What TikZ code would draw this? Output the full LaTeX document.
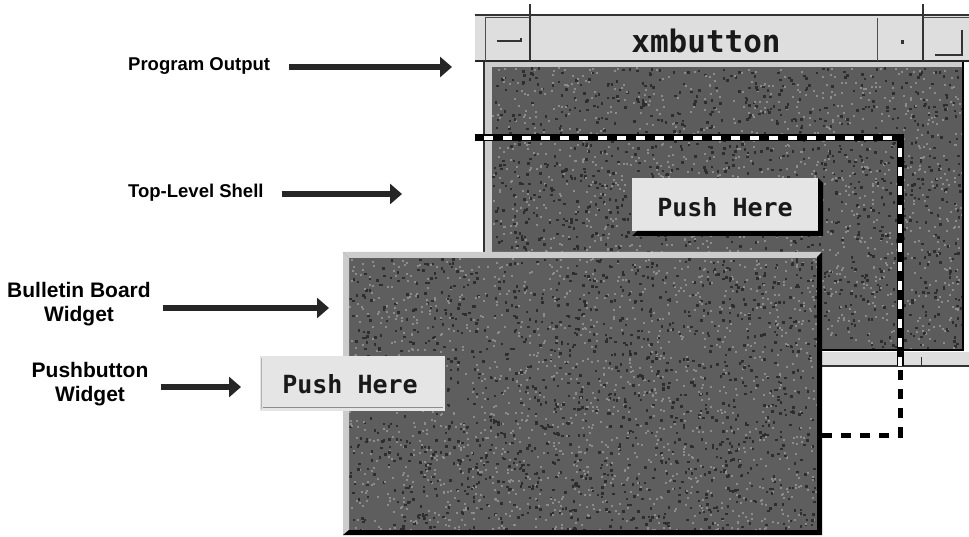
\documentclass[tikz,border=0pt]{standalone}
\usepackage{fontspec}
\newfontfamily\lblfont{Liberation Sans}
\newfontfamily\pixfont{DejaVu Sans Mono}
\usetikzlibrary{arrows.meta}
\definecolor{bodygray}{gray}{0.36}
\definecolor{bbgray}{gray}{0.37}
\definecolor{titlegray}{gray}{0.87}
\definecolor{btngray}{gray}{0.90}
\definecolor{edgegray}{gray}{0.80}
\definecolor{speckdark}{gray}{0.18}
\definecolor{specklight}{gray}{0.55}
\tikzset{
  lblA/.style={font=\lblfont\bfseries\fontsize{18.5}{22}\selectfont, inner sep=0pt},
  lblB/.style={font=\lblfont\bfseries\fontsize{21}{24}\selectfont, inner sep=0pt, align=center},
  pushtext/.style={font=\pixfont\bfseries\fontsize{25}{28}\selectfont, inner sep=0pt, text=black!90},
  titletext/.style={font=\pixfont\bfseries\fontsize{31}{34}\selectfont, inner sep=0pt, text=black!90},
  bigarrow/.style={line width=5.5pt, -{Triangle[length=12pt,width=20pt]}, black!85},
  shellblack/.style={line width=7pt, black},
  shellwhite/.style={line width=4.5pt, white, dash pattern=on 9pt off 10pt},
  shellout/.style={line width=5pt, black, dash pattern=on 10pt off 9pt},
  speckD/.style={fill=speckdark},
  speckL/.style={fill=specklight},
}
\begin{document}
\begin{tikzpicture}[x=1pt,y=-1pt]
\useasboundingbox (0,0) rectangle (969,537);
\fill[white] (0,0) rectangle (969,537);
\pgfmathsetseed{42}

% ---------- top window: title bar ----------
\fill[titlegray] (475,15) rectangle (969,61);
\draw[line width=1.2pt, black!80] (475,15) -- (969,15);
\draw[line width=2pt, black!85] (475,61) -- (969,61);
\draw[line width=1.2pt, black!80] (530,4) -- (530,61);
\draw[line width=1.2pt, black!80] (923,4) -- (923,61);
\draw[line width=1pt, black!70] (877,18) -- (877,61);
\draw[line width=1pt, black!70] (485,18) -- (485,61);
\draw[line width=1pt, black!70] (485,18) -- (530,18);
\draw[line width=1pt, black!70] (923,18) -- (969,18);
\draw[line width=1.5pt, black!80] (497,41) -- (521,41) -- (521,38);
\fill[black!80] (901,40) rectangle (904,44);
\draw[line width=1.5pt, black!80] (935,55) -- (962,55) -- (962,30);
\node[titletext] (title) at (706,41) {xmbutton};

% ---------- top window: body ----------
\fill[bodygray] (485,62) rectangle (963,350);
\begin{scope}
  \clip (492,67) rectangle (962,349);
  \foreach \i in {1,...,1400}{
    \pgfmathsetmacro\rx{492+470*rnd}\pgfmathsetmacro\ry{67+282*rnd}
    \fill[speckD] (\rx,\ry) rectangle ++(2.5,2.5);
    \pgfmathsetmacro\sx{492+470*rnd}\pgfmathsetmacro\sy{67+282*rnd}
    \fill[speckL] (\sx,\sy) rectangle ++(2,2);
  }
\end{scope}
\fill[edgegray] (485,62) rectangle (492,350);
\fill[edgegray] (485,62) rectangle (963,67);
\draw[line width=1.2pt, black!80] (484,62) -- (484,350);
\draw[line width=2pt, black] (963,62) -- (963,351);
\draw[line width=2.5pt, black] (485,350) -- (964,350);
\fill[titlegray] (822,352) rectangle (969,366);
\draw[line width=1.5pt, black!80] (822,366) -- (969,366);
\draw[line width=1pt, black!80] (921,357) -- (921,366);

% ---------- upper push button ----------
\fill[btngray] (632,178) rectangle (818,231);
\fill[black] (818,178) -- (823,183) -- (823,236) -- (632,236) -- (637,231) -- (818,231) -- cycle;
\node[pushtext] (pb1) at (725,207) {Push Here};

% ---------- top-level shell (dashed) ----------
\draw[shellblack] (475,138) -- (900,138) -- (900,366);
\draw[shellwhite] (484,138) -- (896,138);
\draw[shellwhite] (900,148) -- (900,366);
\draw[shellout] (900,370) -- (900,435) -- (822,435);

% ---------- bulletin board ----------
\fill[bbgray] (343,252) rectangle (822,535);
\begin{scope}
  \clip (349,258) rectangle (817,530);
  \foreach \i in {1,...,1400}{
    \pgfmathsetmacro\rx{349+468*rnd}\pgfmathsetmacro\ry{258+272*rnd}
    \fill[speckD] (\rx,\ry) rectangle ++(2.5,2.5);
    \pgfmathsetmacro\sx{349+468*rnd}\pgfmathsetmacro\sy{258+272*rnd}
    \fill[speckL] (\sx,\sy) rectangle ++(2,2);
  }
\end{scope}
\fill[edgegray] (343,252) -- (822,252) -- (817,258) -- (349,258) -- cycle;
\fill[edgegray] (343,252) -- (349,258) -- (349,530) -- (343,535) -- cycle;
\fill[black] (822,252) -- (822,535) -- (817,530) -- (817,257) -- cycle;
\fill[black] (343,535) -- (822,535) -- (817,530) -- (349,530) -- cycle;

% ---------- lower push button ----------
\fill[btngray] (260,356) rectangle (445,411);
\draw[line width=0.8pt, black!45] (263,407) -- (443,407);
\draw[line width=0.6pt, black!30] (261,358) -- (261,409);
\node[pushtext] (pb2) at (350,384) {Push Here};

% ---------- labels and arrows ----------
\node[lblA, anchor=west] (lpo) at (128,66) {Program Output};
\coordinate (tpo) at (452,67);
\draw[bigarrow, shorten <=19pt] (lpo.east |- tpo) -- (tpo);

\node[lblA, anchor=west] (lts) at (128,193) {Top-Level Shell};
\coordinate (tts) at (402,194);
\draw[bigarrow, shorten <=18pt] (lts.east |- tts) -- (tts);

\node[lblB] (lbb) at (79,304) {Bulletin Board\\Widget};
\coordinate (tbb) at (329,308);
\draw[bigarrow, shorten <=12pt] (lbb.east |- tbb) -- (tbb);

\node[lblB] (lpb) at (90,384) {Pushbutton\\Widget};
\coordinate (tpb) at (241,387);
\draw[bigarrow, shorten <=12pt] (lpb.east |- tpb) -- (tpb);
\end{tikzpicture}
\end{document}
